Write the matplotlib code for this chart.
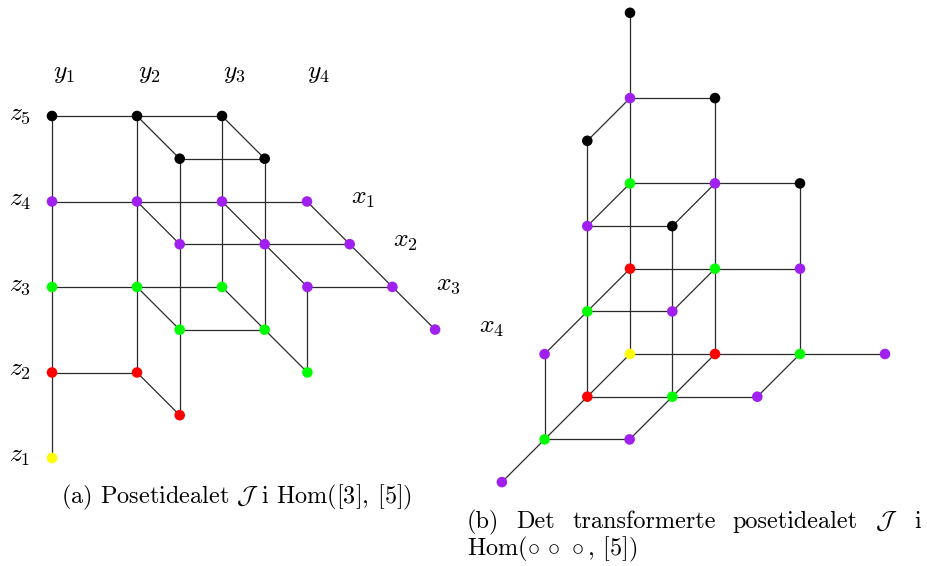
import numpy as np
import matplotlib
matplotlib.use("Agg")
import matplotlib.pyplot as plt

plt.rcParams["mathtext.fontset"] = "cm"

# ---------------- data ----------------
# (a) Posetidealet J i Hom([3],[5]) : lattice coordinates (y-index, x-index, z-index)
left_a = [0, 1, 2, 1, 2,  0, 1, 2, 3, 1, 2, 3, 2, 3, 3,  0, 1, 2, 1, 2, 2,  0, 1, 1,  0]
left_b = [0, 0, 0, 1, 1,  0, 0, 0, 0, 1, 1, 1, 2, 2, 3,  0, 0, 0, 1, 1, 2,  0, 0, 1,  0]
left_c = [4, 4, 4, 4, 4,  3, 3, 3, 3, 3, 3, 3, 3, 3, 3,  2, 2, 2, 2, 2, 2,  1, 1, 1,  0]
left_rank = [4, 4, 4, 4, 4,  3, 3, 3, 3, 3, 3, 3, 3, 3, 3,  2, 2, 2, 2, 2, 2,  1, 1, 1,  0]

# (b) Det transformerte posetidealet J i Hom(ooo,[5])
right_a = [0,  0, 0, 1,  0, 1, 2, 0, 1,  0, 1, 2, 0, 1, 0,  0, 1, 2, 3, 0, 1, 2, 0, 1, 0]
right_b = [0,  0, 1, 0,  0, 0, 0, 1, 1,  0, 0, 0, 1, 1, 2,  0, 0, 0, 0, 1, 1, 1, 2, 2, 3]
right_c = [4,  3, 3, 3,  2, 2, 2, 2, 2,  1, 1, 1, 1, 1, 1,  0, 0, 0, 0, 0, 0, 0, 0, 0, 0]
right_rank = [4,  3, 4, 4,  2, 3, 4, 3, 4,  1, 2, 3, 2, 3, 3,  0, 1, 2, 3, 1, 2, 3, 2, 3, 3]

rank_colors = ["#FFFF00", "#FF0000", "#00FF00", "#A020F0", "#000000"]

y_labels = [r"$y_1$", r"$y_2$", r"$y_3$", r"$y_4$"]
z_labels = [r"$z_1$", r"$z_2$", r"$z_3$", r"$z_4$", r"$z_5$"]
x_labels = [r"$x_1$", r"$x_2$", r"$x_3$", r"$x_4$"]

caption_a = r"(a) Posetidealet $\mathcal{J}$ i Hom([3]$,\!$ [5])"
caption_b_words = ["(b)", "Det", "transformerte", "posetidealet", r"$\mathcal{J}$", "i"]
caption_b_line2 = r"Hom($\circ\,\circ\,\circ$, [5])"

# ---------------- layout ----------------
W, H = 928, 566
fig = plt.figure(figsize=(W / 100, H / 100), dpi=100)
ax = fig.add_axes([0, 0, 1, 1])
ax.set_xlim(0, W)
ax.set_ylim(H, 0)
ax.axis("off")

def project(a, b, c, origin, va, vb, vc):
    A = np.column_stack([va, vb, vc]).astype(float)
    P = np.vstack([a, b, c]).astype(float)
    return (A @ P).T + np.array(origin)

def draw_poset(a, b, c, rank, origin, va, vb, vc):
    pts = project(a, b, c, origin, va, vb, vc)
    L = np.vstack([a, b, c]).T
    n = len(a)
    for i in range(n):
        for j in range(i + 1, n):
            if np.abs(L[i] - L[j]).sum() == 1:
                ax.plot([pts[i, 0], pts[j, 0]], [pts[i, 1], pts[j, 1]],
                        color="#2a2a2a", lw=0.9, zorder=1, solid_capstyle="butt")
    ax.scatter(pts[:, 0], pts[:, 1], s=58,
               c=[rank_colors[r] for r in rank], zorder=3, linewidths=0)
    return pts

L_origin, L_va, L_vb, L_vc = (52, 458), (85, 0), (42.7, 42.7), (0, -85.5)
R_origin, R_va, R_vb, R_vc = (630, 354), (85, 0), (-42.7, 42.7), (0, -85.3)

draw_poset(left_a, left_b, left_c, left_rank, L_origin, L_va, L_vb, L_vc)
draw_poset(right_a, right_b, right_c, right_rank, R_origin, R_va, R_vb, R_vc)

lab_fs = 18.5
for i, t in enumerate(y_labels):
    p = project([i], [0], [4], L_origin, L_va, L_vb, L_vc)[0]
    ax.text(p[0] + 12, 72, t, ha="center", va="center", fontsize=lab_fs)
for k, t in enumerate(z_labels):
    p = project([0], [0], [k], L_origin, L_va, L_vb, L_vc)[0]
    ax.text(20, p[1] - 3, t, ha="center", va="center", fontsize=lab_fs)
for k, t in enumerate(x_labels):
    p = project([3], [k], [3], L_origin, L_va, L_vb, L_vc)[0]
    ax.text(p[0] + 56, p[1] - 4, t, ha="center", va="center", fontsize=lab_fs)

cap_fs = 17.5
ax.text(237, 503, caption_a, ha="center", va="baseline", fontsize=cap_fs, family="cmr10")

# justified first line of caption (b)
x0, x1 = 467, 921
texts = [ax.text(0, 528, w, ha="left", va="baseline", fontsize=cap_fs, family="cmr10")
         for w in caption_b_words]
fig.canvas.draw()
r = fig.canvas.get_renderer()
widths = [t.get_window_extent(r).width for t in texts]
gap = (x1 - x0 - sum(widths)) / (len(texts) - 1)
x = x0
for t, w in zip(texts, widths):
    t.set_x(x)
    x += w + gap
ax.text(x0, 555, caption_b_line2, ha="left", va="baseline", fontsize=cap_fs, family="cmr10")

fig.savefig("out.png", dpi=100)
